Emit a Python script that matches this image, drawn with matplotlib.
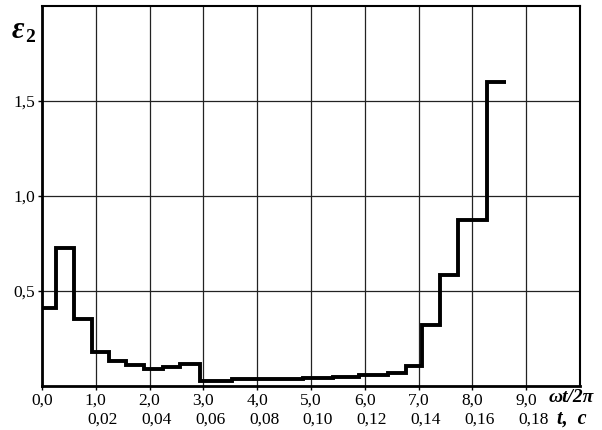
import numpy as np
import matplotlib.pyplot as plt
import matplotlib.transforms as mtransforms

# step edges (omega*t/2pi) and eps_2 levels between them
edges = [0, 0.26, 0.60, 0.935, 1.25, 1.57, 1.9, 2.24, 2.57, 2.94, 3.53,
         4.85, 5.4, 5.9, 6.43, 6.77, 7.07, 7.39, 7.74, 8.28, 8.62]
levels = [0.413, 0.727, 0.352, 0.177, 0.132, 0.109, 0.092, 0.102, 0.116,
          0.028, 0.037, 0.044, 0.050, 0.056, 0.066, 0.105, 0.32, 0.582,
          0.876, 1.60]

x_ticks = [0, 1, 2, 3, 4, 5, 6, 7, 8, 9]
x_labels = ['0,0', '1,0', '2,0', '3,0', '4,0', '5,0', '6,0', '7,0', '8,0', '9,0']
t_labels = ['', '0,02', '0,04', '0,06', '0,08', '0,10', '0,12', '0,14', '0,16', '0,18']
y_ticks = [0.5, 1.0, 1.5]
y_labels = ['0,5', '1,0', '1,5']

plt.rcParams['font.family'] = ['Liberation Serif', 'DejaVu Serif']

fig = plt.figure(figsize=(6.02, 4.30), dpi=100)
ax = fig.add_axes([42/602, 44/430, 538/602, 380/430])

ax.stairs(levels, edges, baseline=None, color='black', lw=2.8)

ax.set_xlim(0, 10)
ax.set_ylim(0, 2.0)
ax.set_xticks(x_ticks)
ax.set_xticklabels(x_labels, fontsize=12.5)
ax.set_yticks(y_ticks)
ax.set_yticklabels(y_labels, fontsize=12.5)
ax.tick_params(direction='out', length=3, width=1, pad=2, color='black')
ax.grid(True, color='#222222', lw=0.9)
ax.set_axisbelow(True)

for side in ['left', 'bottom']:
    ax.spines[side].set_linewidth(2.0)
for side in ['top', 'right']:
    ax.spines[side].set_linewidth(1.5)

# second row of x labels: time in seconds
trans = mtransforms.blended_transform_factory(ax.transData, ax.transAxes)
for xv, lab in zip(x_ticks, t_labels):
    if lab:
        ax.text(xv + 0.13, -0.088, lab, transform=trans, ha='center', va='center',
                fontsize=12.5)

fig.text(549/602, 1 - 398/430, 'ωt/2π', ha='left', va='center',
         fontsize=14, fontweight='bold', style='italic')
fig.text(557/602, 1 - 419/430, 't,  c', ha='left', va='center',
         fontsize=14.5, fontweight='bold', style='italic')
fig.text(12/602, 1 - 30/430, 'ε', ha='left', va='center',
         fontsize=22, fontweight='bold', style='italic')
fig.text(25/602, 1 - 38/430, '2', ha='left', va='center',
         fontsize=14, fontweight='bold')

fig.savefig('out.png', dpi=100)
